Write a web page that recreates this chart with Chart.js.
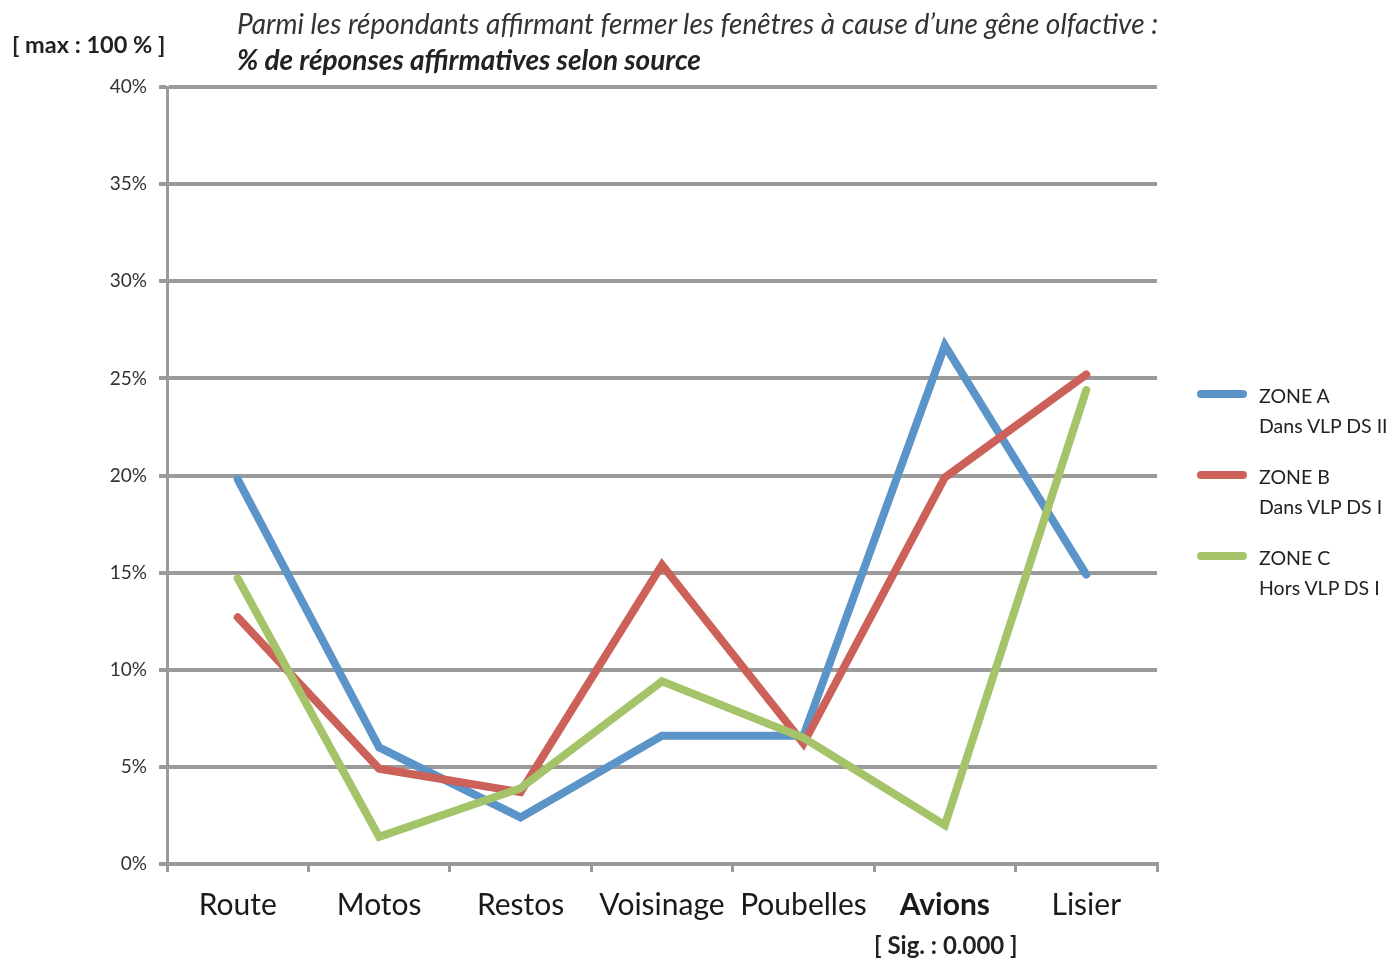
<!DOCTYPE html>
<html>
<head>
<meta charset="utf-8">
<script src="https://cdn.jsdelivr.net/npm/chart.js@4.4.1/dist/chart.umd.min.js"></script>
<style>
  html, body { margin: 0; padding: 0; background: #fff; overflow: hidden; }
  #wrap { position: relative; width: 1397px; height: 961px; font-family: Lato, "Open Sans", sans-serif; }
  canvas { position: absolute; left: 0; top: 0; }
  .t { position: absolute; white-space: nowrap; color: #222; }
  #t1 { left: 237px; top: 6px; font-size: 28px; font-style: italic; color: #333; }
  #t2 { left: 237px; top: 42px; font-size: 28px; font-style: italic; font-weight: bold; color: #222; }
  #max { left: 12px; top: 30px; font-size: 23.5px; font-weight: bold; color: #222; }
  .lg { position: absolute; left: 1197px; width: 50px; height: 8px; border-radius: 4px; }
  .lt { position: absolute; left: 1259px; font-size: 19.5px; line-height: 30px; color: #222; white-space: nowrap; }
</style>
</head>
<body>
<div id="wrap">
  <canvas id="c" width="1397" height="961"></canvas>
  <div class="t" id="t1"></div>
  <div class="t" id="t2"></div>
  <div class="t" id="max"></div>
  <div id="legend"></div>
</div>
<script>
const categories = ['Route', 'Motos', 'Restos', 'Voisinage', 'Poubelles', 'Avions', 'Lisier'];
const zoneA = [19.8, 6.0, 2.4, 6.6, 6.6, 26.7, 14.9];
const zoneB = [12.7, 4.9, 3.7, 15.4, 6.2, 19.9, 25.2];
const zoneC = [14.7, 1.4, 3.9, 9.4, 6.5, 2.0, 24.4];
const seriesNames = [['ZONE A', 'Dans VLP DS II'], ['ZONE B', 'Dans VLP DS I'], ['ZONE C', 'Hors VLP DS I']];
const seriesColors = ['#5b94c9', '#cc6159', '#a5c46a'];
const yTicks = [0, 5, 10, 15, 20, 25, 30, 35, 40];
const titleLine1 = 'Parmi les répondants affirmant fermer les fenêtres à cause d\u2019une gêne olfactive :';
const titleLine2 = '% de réponses affirmatives selon source';
const maxNote = '[ max : 100 % ]';
const boldCategory = 'Avions';
const sigNote = '[ Sig. : 0.000 ]';

document.getElementById('t1').textContent = titleLine1;
document.getElementById('t2').textContent = titleLine2;
document.getElementById('max').textContent = maxNote;

const legendTops = [394, 475, 556];
const lg = document.getElementById('legend');
seriesNames.forEach((n, i) => {
  const bar = document.createElement('div');
  bar.className = 'lg';
  bar.style.top = (legendTops[i] - 4) + 'px';
  bar.style.background = seriesColors[i];
  lg.appendChild(bar);
  const txt = document.createElement('div');
  txt.className = 'lt';
  txt.style.top = (legendTops[i] - 13) + 'px';
  txt.innerHTML = n[0] + '<br>' + n[1];
  lg.appendChild(txt);
});

const sigPlugin = {
  id: 'sig',
  afterDraw(chart) {
    const x = chart.scales.x;
    const idx = categories.indexOf(boldCategory);
    const px = x.getPixelForValue(idx);
    const ctx = chart.ctx;
    ctx.save();
    ctx.font = 'bold 24px Lato, "Open Sans", sans-serif';
    ctx.fillStyle = '#222';
    ctx.textAlign = 'center';
    ctx.textBaseline = 'middle';
    ctx.fillText(sigNote, px + 1, 946);
    ctx.restore();
  }
};

const mk = (label, data, color, order) => ({
  label, data, borderColor: color, backgroundColor: color,
  borderWidth: 8, pointRadius: 0, tension: 0, fill: false,
  borderCapStyle: 'round', borderJoinStyle: 'miter', order
});

new Chart(document.getElementById('c'), {
  type: 'line',
  data: {
    labels: categories,
    datasets: [
      mk(seriesNames[0].join(' '), zoneA, seriesColors[0], 3),
      mk(seriesNames[1].join(' '), zoneB, seriesColors[1], 2),
      mk(seriesNames[2].join(' '), zoneC, seriesColors[2], 1)
    ]
  },
  options: {
    responsive: false,
    animation: false,
    layout: { padding: { left: 0, right: 240, top: 87, bottom: 0 } },
    plugins: { legend: { display: false }, tooltip: { enabled: false } },
    scales: {
      x: {
        offset: true,
        afterFit: s => { s.height = 97; },
        grid: { display: true, offset: true, drawOnChartArea: false, drawTicks: true, tickLength: 8, color: '#9a9a9a', lineWidth: 3 },
        border: { display: true, color: '#9a9a9a', width: 4 },
        ticks: {
          color: '#1a1a1a', padding: 15, maxRotation: 0, autoSkip: false,
          font: ctx => ({ family: 'Lato, "Open Sans", sans-serif', size: 30, weight: categories[ctx.index] === boldCategory ? 'bold' : 'normal' })
        }
      },
      y: {
        min: 0, max: 40,
        afterFit: s => { s.width = 167; },
        afterBuildTicks: s => { s.ticks = yTicks.map(v => ({ value: v })); },
        grid: { color: '#9a9a9a', lineWidth: 4, tickLength: 8 },
        border: { display: true, color: '#9a9a9a', width: 3 },
        ticks: {
          color: '#333', padding: 12,
          font: { family: 'Lato, "Open Sans", sans-serif', size: 19 },
          callback: v => v + '%'
        }
      }
    }
  },
  plugins: [sigPlugin]
});
</script>
</body>
</html>
